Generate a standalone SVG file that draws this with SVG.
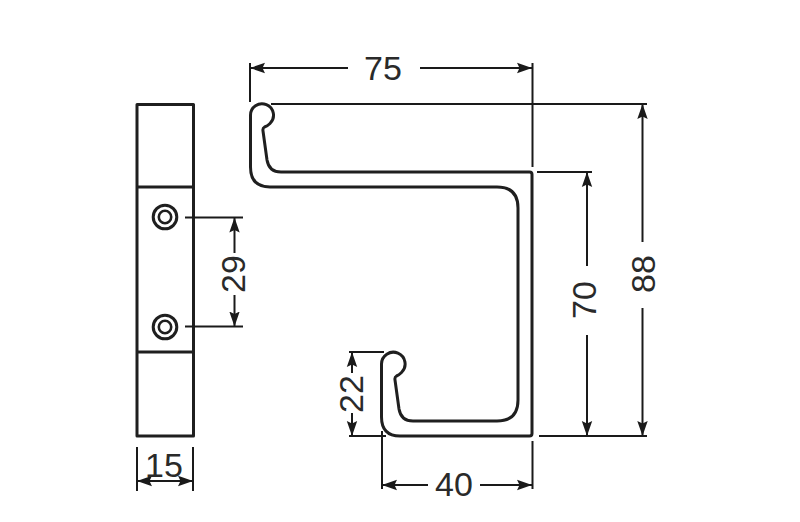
<svg xmlns="http://www.w3.org/2000/svg" width="800" height="522" viewBox="0 0 800 522">
<defs>
<marker id="a" markerUnits="userSpaceOnUse" markerWidth="18" markerHeight="14" refX="15" refY="7" orient="auto-start-reverse"><path d="M0 1.800 L15 7 L0 12.200 L2.500 7 Z" fill="#1a1a1a"/></marker>
</defs>
<style>
.o{fill:none;stroke:#1f1f1f;stroke-width:3;stroke-linejoin:round}
.s{fill:none;stroke:#1f1f1f;stroke-width:2.600}
.d{fill:none;stroke:#1a1a1a;stroke-width:2}
.t{font-family:"Liberation Sans",Arial,sans-serif;font-size:34px;fill:#2a2a2a;text-anchor:middle}
</style>
<rect width="800" height="522" fill="#fff"/>
<g id="side-view">
<rect class="o" x="137" y="104.500" width="56.500" height="331.500"/>
<path class="o" d="M137 187H193.500M137 352H193.500"/>
</g>
<g id="screw-top"><circle class="o" cx="165" cy="217" r="11.800"/><circle class="s" cx="165" cy="217" r="6.200"/></g>
<g id="screw-bottom"><circle class="o" cx="165" cy="327" r="11.800"/><circle class="s" cx="165" cy="327" r="6.200"/></g>
<g id="hook">
<path class="o" d="M250.500 115.500A11.500 11.500 0 1 1 270 123.500Q267.500 126 264.500 127Q262.500 128 263 131L267 160Q269 172 281 172H529.500Q532 172 532 174.500V433.500Q532 436 529.500 436H400Q381.500 436 381.500 417V364A11.800 11.800 0 1 1 401.500 372.500Q399 375 396.500 376Q394.500 377 395 380L399 409Q401 421 413 421H497Q518 421 518 400V208Q518 187 497 187H270Q250.500 187 250.500 167Z"/>
</g>
<g id="connectors">
<path class="d" d="M250 63V102M532.500 63V167M271 104H647M537 172H592M539 436H647M382 431V489M532.500 441V489M137 447V491M193 447V491M185 217.500H243M185 326.500H243M349 352H384M349 436H386"/>
<path class="d" marker-start="url(#a)" d="M250 68H348"/>
<path class="d" marker-end="url(#a)" d="M420 68H532"/>
<path class="d" marker-start="url(#a)" d="M587 172V266"/>
<path class="d" marker-end="url(#a)" d="M587 335V436"/>
<path class="d" marker-start="url(#a)" d="M642.500 104V242"/>
<path class="d" marker-end="url(#a)" d="M642.500 308V436"/>
<path class="d" marker-start="url(#a)" d="M234.500 217.500V253"/>
<path class="d" marker-end="url(#a)" d="M234.500 295V326.500"/>
<path class="d" marker-start="url(#a)" d="M352 352V373"/>
<path class="d" marker-end="url(#a)" d="M352 413V436"/>
<path class="d" marker-start="url(#a)" d="M382 485H428"/>
<path class="d" marker-end="url(#a)" d="M480 485H532"/>
<path class="d" marker-start="url(#a)" marker-end="url(#a)" d="M137 481H193"/>
</g>
<g id="labels">
<text class="t" x="383" y="79.500">75</text>
<text class="t" x="454" y="496">40</text>
<text class="t" x="164" y="476.500">15</text>
<text class="t" transform="translate(245 274) rotate(-90)">29</text>
<text class="t" transform="translate(363 394) rotate(-90)">22</text>
<text class="t" transform="translate(596 300) rotate(-90)">70</text>
<text class="t" transform="translate(655 274) rotate(-90)">88</text>
</g>
</svg>
